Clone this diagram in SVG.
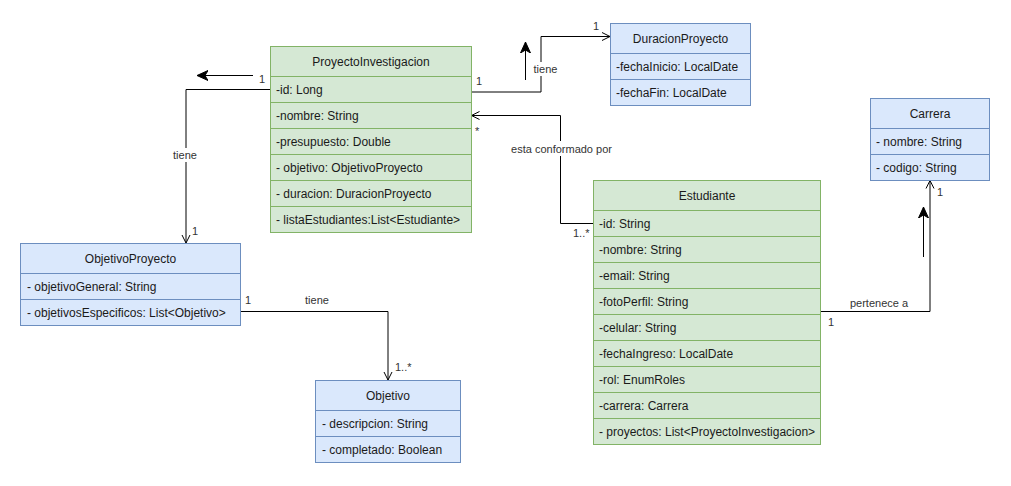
<svg xmlns="http://www.w3.org/2000/svg" width="1011" height="486" viewBox="0 0 1011 486">
<style>
.g rect{fill:#d5e8d4;stroke:#82b366;stroke-width:1}
.g line{stroke:#82b366;stroke-width:1}
.b rect{fill:#dae8fc;stroke:#6c8ebf;stroke-width:1}
.b line{stroke:#6c8ebf;stroke-width:1}
text{font-family:"Liberation Sans",Arial,sans-serif;font-size:12px;fill:#1a1a1a}
.t{text-anchor:middle}
.el{font-size:11px;fill:#333}
.c{fill:none;stroke:#000;stroke-width:1}
.bg{fill:#fff}
</style>
<defs>
<marker id="open" markerWidth="12" markerHeight="12" refX="9" refY="5" orient="auto" markerUnits="userSpaceOnUse">
<path d="M1,1 L9,5 L1,9" fill="none" stroke="#000" stroke-width="1"/>
</marker>
<marker id="block" markerWidth="14" markerHeight="12" refX="11" refY="6" orient="auto" markerUnits="userSpaceOnUse">
<path d="M0,1 L11,6 L0,11 L3,6 Z" fill="#000" stroke="#000" stroke-width="1"/>
</marker>
</defs>

<g id="connectors">
<!-- ProyectoInvestigacion -> ObjetivoProyecto -->
<path class="c" d="M270,89.5 H186 V243" marker-end="url(#open)"/>
<line class="c" x1="253" y1="75.5" x2="197" y2="75.5" marker-end="url(#block)"/>
<text class="el" x="259" y="83">1</text>
<rect class="bg" x="173" y="148" width="24" height="14"/>
<text class="el t" x="185" y="159">tiene</text>
<text class="el" x="192" y="235">1</text>

<!-- ProyectoInvestigacion -> DuracionProyecto -->
<path class="c" d="M471,92 H541 V36.5 H610" marker-end="url(#open)"/>
<line class="c" x1="525.5" y1="80" x2="525.5" y2="42" marker-end="url(#block)"/>
<text class="el" x="476" y="85">1</text>
<rect class="bg" x="533" y="62" width="25" height="14"/>
<text class="el t" x="545.5" y="73">tiene</text>
<text class="el" x="593" y="30">1</text>

<!-- Estudiante -> ProyectoInvestigacion -->
<path class="c" d="M593,223.5 H560.5 V115.5 H471.5" marker-end="url(#open)"/>
<text class="el" x="475" y="135">*</text>
<rect class="bg" x="510" y="141" width="103" height="15"/>
<text class="el t" x="561.5" y="152.5">esta conformado por</text>
<text class="el" x="573" y="237">1..*</text>

<!-- ObjetivoProyecto -> Objetivo -->
<path class="c" d="M240.5,311.5 H388 V380" marker-end="url(#open)"/>
<text class="el" x="245" y="304">1</text>
<text class="el t" x="317" y="304">tiene</text>
<text class="el" x="395" y="371">1..*</text>

<!-- Estudiante -> Carrera -->
<path class="c" d="M820.5,311.5 H930 V180.5" marker-end="url(#open)"/>
<line class="c" x1="923.5" y1="257" x2="923.5" y2="207" marker-end="url(#block)"/>
<text class="el t" x="879" y="306.5">pertenece a</text>
<text class="el" x="828" y="326">1</text>
<text class="el" x="937" y="196">1</text>
</g>

<g id="ProyectoInvestigacion" class="g">
<rect x="270.5" y="46.5" width="201" height="186"/>
<line x1="270.5" y1="76.5" x2="471.5" y2="76.5"/>
<line x1="270.5" y1="102.5" x2="471.5" y2="102.5"/>
<line x1="270.5" y1="128.5" x2="471.5" y2="128.5"/>
<line x1="270.5" y1="154.5" x2="471.5" y2="154.5"/>
<line x1="270.5" y1="180.5" x2="471.5" y2="180.5"/>
<line x1="270.5" y1="206.5" x2="471.5" y2="206.5"/>
<text class="t" x="371" y="65.5">ProyectoInvestigacion</text>
<text x="276" y="93.5">-id: Long</text>
<text x="276" y="119.5">-nombre: String</text>
<text x="276" y="145.5">-presupuesto: Double</text>
<text x="276" y="171.5">- objetivo: ObjetivoProyecto</text>
<text x="276" y="197.5">- duracion: DuracionProyecto</text>
<text x="276" y="223.5">- listaEstudiantes:List&lt;Estudiante&gt;</text>
</g>

<g id="DuracionProyecto" class="b">
<rect x="610.5" y="23.5" width="140" height="82"/>
<line x1="610.5" y1="53.5" x2="750.5" y2="53.5"/>
<line x1="610.5" y1="79.5" x2="750.5" y2="79.5"/>
<text class="t" x="680.5" y="42.5">DuracionProyecto</text>
<text x="616" y="70.5">-fechaInicio: LocalDate</text>
<text x="616" y="96.5">-fechaFin: LocalDate</text>
</g>

<g id="Carrera" class="b">
<rect x="870.5" y="98.5" width="119" height="82"/>
<line x1="870.5" y1="128.5" x2="989.5" y2="128.5"/>
<line x1="870.5" y1="154.5" x2="989.5" y2="154.5"/>
<text class="t" x="930" y="117.5">Carrera</text>
<text x="876" y="145.5">- nombre: String</text>
<text x="876" y="171.5">- codigo: String</text>
</g>

<g id="Estudiante" class="g">
<rect x="593.5" y="180.5" width="227" height="264"/>
<line x1="593.5" y1="210.5" x2="820.5" y2="210.5"/>
<line x1="593.5" y1="236.5" x2="820.5" y2="236.5"/>
<line x1="593.5" y1="262.5" x2="820.5" y2="262.5"/>
<line x1="593.5" y1="288.5" x2="820.5" y2="288.5"/>
<line x1="593.5" y1="314.5" x2="820.5" y2="314.5"/>
<line x1="593.5" y1="340.5" x2="820.5" y2="340.5"/>
<line x1="593.5" y1="366.5" x2="820.5" y2="366.5"/>
<line x1="593.5" y1="392.5" x2="820.5" y2="392.5"/>
<line x1="593.5" y1="418.5" x2="820.5" y2="418.5"/>
<text class="t" x="707" y="199.5">Estudiante</text>
<text x="599" y="227.5">-id: String</text>
<text x="599" y="253.5">-nombre: String</text>
<text x="599" y="279.5">-email: String</text>
<text x="599" y="305.5">-fotoPerfil: String</text>
<text x="599" y="331.5">-celular: String</text>
<text x="599" y="357.5">-fechaIngreso: LocalDate</text>
<text x="599" y="383.5">-rol: EnumRoles</text>
<text x="599" y="409.5">-carrera: Carrera</text>
<text x="599" y="435.5">- proyectos: List&lt;ProyectoInvestigacion&gt;</text>
</g>

<g id="ObjetivoProyecto" class="b">
<rect x="20.5" y="243.5" width="220" height="82"/>
<line x1="20.5" y1="273.5" x2="240.5" y2="273.5"/>
<line x1="20.5" y1="299.5" x2="240.5" y2="299.5"/>
<text class="t" x="130.5" y="262.5">ObjetivoProyecto</text>
<text x="27" y="290.5">- objetivoGeneral: String</text>
<text x="27" y="316.5">- objetivosEspecificos: List&lt;Objetivo&gt;</text>
</g>

<g id="Objetivo" class="b">
<rect x="315.5" y="380.5" width="145" height="82"/>
<line x1="315.5" y1="410.5" x2="460.5" y2="410.5"/>
<line x1="315.5" y1="436.5" x2="460.5" y2="436.5"/>
<text class="t" x="388" y="399.5">Objetivo</text>
<text x="322" y="427.5">- descripcion: String</text>
<text x="322" y="453.5">- completado: Boolean</text>
</g>
</svg>
